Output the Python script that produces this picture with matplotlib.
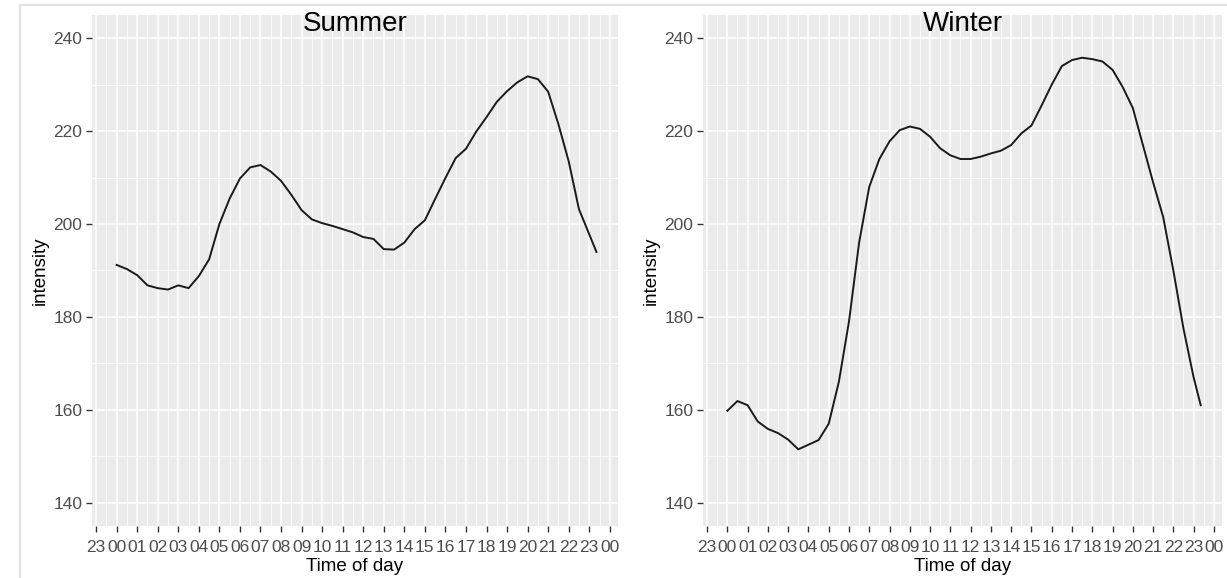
import numpy as np
import matplotlib.pyplot as plt
from matplotlib.ticker import MultipleLocator, FixedLocator
from matplotlib.lines import Line2D

plt.rcParams['font.family'] = ['Liberation Sans', 'DejaVu Sans']

# hours after midnight (half-hour readings)
hours = [0.0, 0.5, 1.0, 1.5, 2.0, 2.5, 3.0, 3.5, 4.0, 4.5, 5.0, 5.5,
         6.0, 6.5, 7.0, 7.5, 8.0, 8.5, 9.0, 9.5, 10.0, 10.5, 11.0, 11.5,
         12.0, 12.5, 13.0, 13.5, 14.0, 14.5, 15.0, 15.5, 16.0, 16.5, 17.0, 17.5,
         18.0, 18.5, 19.0, 19.5, 20.0, 20.5, 21.0, 21.5, 22.0, 22.5, 23.0, 23.35]

summer = [191.2, 190.3, 189.0, 186.8, 186.2, 185.9, 186.8, 186.2, 188.8, 192.4, 200.0, 205.5,
          209.8, 212.2, 212.7, 211.3, 209.3, 206.3, 203.0, 201.0, 200.2, 199.6, 198.9, 198.2,
          197.2, 196.8, 194.6, 194.5, 196.0, 198.9, 200.8, 205.4, 209.9, 214.2, 216.2, 219.9,
          223.0, 226.3, 228.6, 230.5, 231.8, 231.2, 228.5, 221.5, 213.5, 203.2, 197.8, 194.0]

winter = [159.8, 161.9, 161.0, 157.5, 155.9, 155.0, 153.6, 151.5, 152.5, 153.5, 157.0, 166.0,
          179.0, 196.0, 208.0, 214.0, 217.8, 220.2, 221.0, 220.5, 218.8, 216.3, 214.8, 214.0,
          214.0, 214.5, 215.2, 215.8, 217.0, 219.5, 221.2, 225.5, 230.0, 234.0, 235.3, 235.8,
          235.5, 235.0, 233.2, 229.5, 225.0, 217.0, 209.0, 201.5, 190.0, 177.5, 167.0, 161.0]

tick_pos = list(range(-1, 25))
tick_labels = ['23', '00', '01', '02', '03', '04', '05', '06', '07', '08', '09', '10', '11',
               '12', '13', '14', '15', '16', '17', '18', '19', '20', '21', '22', '23', '00']

W, H = 1227, 578
fig = plt.figure(figsize=(W / 100, H / 100), dpi=100)

# screenshot frame
fig.add_artist(Line2D([20 / W, 1], [1 - 5 / H, 1 - 5 / H], color='#e3e3e3', lw=1.5))
fig.add_artist(Line2D([20 / W, 20 / W], [0, 1 - 5 / H], color='#e3e3e3', lw=1.5))

panels = [(92, 618, 'Summer', summer), (703, 1222, 'Winter', winter)]
top, bottom = 15, 526

for x0, x1, name, vals in panels:
    ax = fig.add_axes([x0 / W, 1 - bottom / H, (x1 - x0) / W, (bottom - top) / H])
    ax.set_facecolor('#ebebeb')
    ax.plot(hours, vals, color='#1a1a1a', lw=1.4, zorder=3)
    ax.set_xlim(-1.2, 24.4)
    ax.set_ylim(135, 245)
    ax.xaxis.set_major_locator(FixedLocator(tick_pos))
    ax.set_xticklabels(tick_labels)
    ax.xaxis.set_minor_locator(MultipleLocator(0.5))
    ax.yaxis.set_major_locator(MultipleLocator(20))
    ax.yaxis.set_minor_locator(MultipleLocator(10))
    ax.grid(which='major', color='white', lw=1.1)
    ax.grid(which='minor', color='white', lw=0.55)
    ax.set_axisbelow(True)
    for s in ax.spines.values():
        s.set_visible(False)
    ax.tick_params(which='major', length=4, width=1, color='#333333',
                   labelcolor='#4d4d4d', labelsize=12.5)
    ax.tick_params(axis='x', which='major', pad=6)
    ax.tick_params(axis='y', which='major', pad=3)
    ax.tick_params(which='minor', length=0)
    ax.set_xlabel('Time of day', fontsize=13.5, color='black', labelpad=2)
    ax.set_ylabel('intensity', fontsize=13.5, color='black', labelpad=3)
    ax.text(0.5, 0.983, name, transform=ax.transAxes, ha='center', va='center',
            fontsize=20, color='black')

fig.savefig('out.png', dpi=100)
